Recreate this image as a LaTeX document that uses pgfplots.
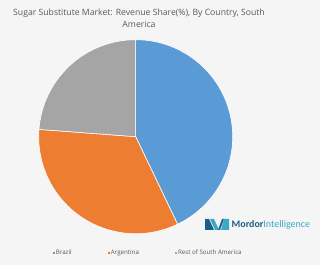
\documentclass[border=0pt]{standalone}
\usepackage{pgfplots}
\pgfplotsset{compat=1.18}
\usepackage{pgfplotstable}
\usepackage{fontspec}
\setmainfont{Open Sans}
\newfontfamily\logofont{Carlito}
\definecolor{bg}{HTML}{F5F5F5}
\definecolor{cBrazil}{HTML}{5B9BD5}
\definecolor{cArg}{HTML}{ED7D31}
\definecolor{cRest}{HTML}{A5A5A5}
\definecolor{txt}{HTML}{595959}
\definecolor{mdark}{HTML}{1F5F8B}
\definecolor{mteal}{HTML}{3AA8C6}

\pgfplotstableread{
country value
Brazil 42.9
Argentina 33.3
Rest 23.8
}\piedata

\begin{document}%
\begin{tikzpicture}
\pgfplotstablegetelem{0}{value}\of\piedata\let\vA\pgfplotsretval
\pgfplotstablegetelem{1}{value}\of\piedata\let\vB\pgfplotsretval
\pgfplotstablegetelem{2}{value}\of\piedata\let\vC\pgfplotsretval
\pgfmathsetmacro\aZero{90}
\pgfmathsetmacro\aA{90-3.6*\vA}
\pgfmathsetmacro\aB{\aA-3.6*\vB}
\pgfmathsetmacro\aC{\aB-3.6*\vC}
\begin{axis}[
  x=1bp, y=1bp, xmin=0, xmax=320, ymin=0, ymax=265,
  hide axis, ticks=none, clip=false, scale only axis,
  legend columns=3,
  legend style={at={(axis cs:52.5,12)}, anchor=west, draw=none, fill=none,
    inner sep=0pt, font=\fontsize{6.2}{7}\selectfont, text=txt,
    nodes={inner sep=1bp},
    /tikz/every even column/.append style={column sep=35bp}},
  legend image code/.code={\fill[#1] (0bp,-1.1bp) rectangle (2.2bp,1.1bp);},
]
\coordinate (bbsw) at (axis cs:0,0);
\coordinate (bbne) at (axis cs:320,265);
\fill[bg] (axis cs:0,0) rectangle (axis cs:320,265);
% pie slices from the table values
\filldraw[fill=cBrazil, draw=white, line width=0.6pt] (axis cs:135.7,128.3) -- ++(\aZero:97bp) arc[start angle=\aZero, end angle=\aA, radius=97bp] -- cycle;
\filldraw[fill=cArg, draw=white, line width=0.6pt] (axis cs:135.7,128.3) -- ++(\aA:97bp) arc[start angle=\aA, end angle=\aB, radius=97bp] -- cycle;
\filldraw[fill=cRest, draw=white, line width=0.6pt] (axis cs:135.7,128.3) -- ++(\aB:97bp) arc[start angle=\aB, end angle=\aC, radius=97bp] -- cycle;
% title
\node[align=center, text=txt, font=\fontsize{8.7}{12}\selectfont] at (axis cs:139,247)
  {Sugar Substitute Market: Revenue Share(\%), By Country, South\\America};
% logo
\fill[mdark] (axis cs:205,35) -- (axis cs:205,46) -- (axis cs:209,46) -- (axis cs:214,35) -- cycle;
\fill[mteal] (axis cs:210,46) -- (axis cs:214,46) -- (axis cs:219,35) -- (axis cs:215,35) -- cycle;
\fill[mdark] (axis cs:218,35) -- (axis cs:222,46) -- (axis cs:224,46) -- (axis cs:220,35) -- cycle;
\fill[mteal] (axis cs:224,46) -- (axis cs:229,46) -- (axis cs:229,35) -- (axis cs:221,35) -- cycle;
\node[anchor=west, inner sep=0pt, font=\logofont\fontsize{10}{12}\selectfont] at (axis cs:231.5,40)
  {\textcolor{mdark}{\textbf{Mordor}}\textcolor{mteal}{Intelligence}};
\addlegendimage{fill=cBrazil, draw=none}
\addlegendentry{Brazil}
\addlegendimage{fill=cArg, draw=none}
\addlegendentry{Argentina}
\addlegendimage{fill=cRest, draw=none}
\addlegendentry{Rest of South America}
\end{axis}
\pgfresetboundingbox
\path[use as bounding box] (bbsw) rectangle (bbne);
\end{tikzpicture}%
\end{document}
